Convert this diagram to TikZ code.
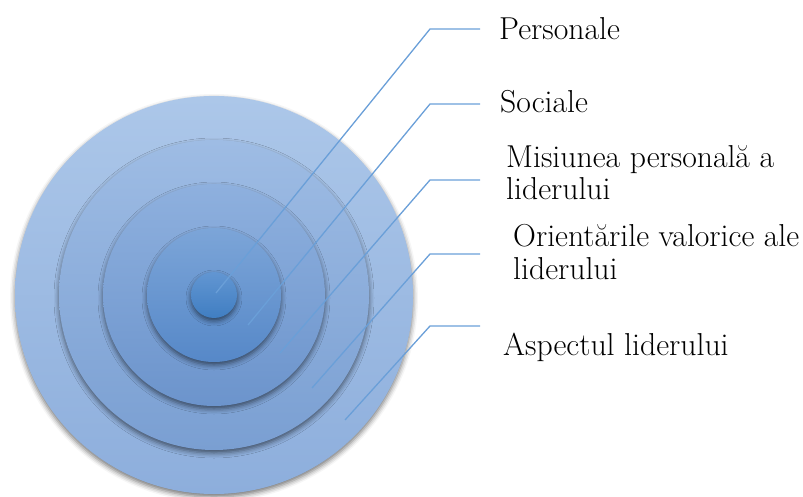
\documentclass[tikz,border=0pt]{standalone}
\usepackage{fontspec}
\usetikzlibrary{shadows.blur}
\definecolor{leadblue}{HTML}{6A9FD8}
\begin{document}
\begin{tikzpicture}[x=1pt,y=-1pt,
  ring/.style={blur shadow={shadow xshift=0pt,shadow yshift=-3pt,shadow blur radius=5pt,shadow opacity=55}},
  lead/.style={draw=leadblue,line width=1.3pt},
  lbl/.style={anchor=base west,inner sep=0pt,align=left,font=\fontsize{31.7}{32.5}\selectfont}]
\useasboundingbox (0,0) rectangle (803,497);
% concentric rings, outermost first
\coordinate (c) at (214,295);
\shade[ring,top color={rgb,255:red,172;green,199;blue,233},bottom color={rgb,255:red,141;green,174;blue,220}] (c) circle[radius=199];
\shade[ring,top color={rgb,255:red,158;green,188;blue,228},bottom color={rgb,255:red,122;green,159;blue,210}] (c) circle[radius=155];
\shade[ring,top color={rgb,255:red,142;green,176;blue,222},bottom color={rgb,255:red,108;green,148;blue,204}] (c) circle[radius=111];
\shade[ring,top color={rgb,255:red,124;green,165;blue,216},bottom color={rgb,255:red,86;green,136;blue,200}] (c) circle[radius=67];
\shade[ring,top color={rgb,255:red,98;green,150;blue,210},bottom color={rgb,255:red,64;green,126;blue,194}] (c) circle[radius=23];
% leader line anchor points
\coordinate (in1) at (216,293); \coordinate (k1) at (430,29);  \coordinate (h1) at (480,29);
\coordinate (in2) at (248,325); \coordinate (k2) at (430,104); \coordinate (h2) at (480,104);
\coordinate (in3) at (280,353); \coordinate (k3) at (430,180); \coordinate (h3) at (480,180);
\coordinate (in4) at (312,388); \coordinate (k4) at (430,254); \coordinate (h4) at (480,254);
\coordinate (in5) at (345,420); \coordinate (k5) at (430,326); \coordinate (h5) at (480,326);
\foreach \i in {1,...,5}{\draw[lead] (in\i) -- (k\i) -- (h\i);}
% labels (two-line labels are placed by the baseline of their last line)
\node[lbl] (t1) at (499,40) {Personale};
\node[lbl] (t2) at (500,113) {Sociale};
\node[lbl] (t3) at (506,200) {Misiunea personală a\\liderului};
\node[lbl] (t4) at (513,279) {Orientările valorice ale\\liderului};
\node[lbl] (t5) at (503,355) {Aspectul liderului};
\end{tikzpicture}
\end{document}
